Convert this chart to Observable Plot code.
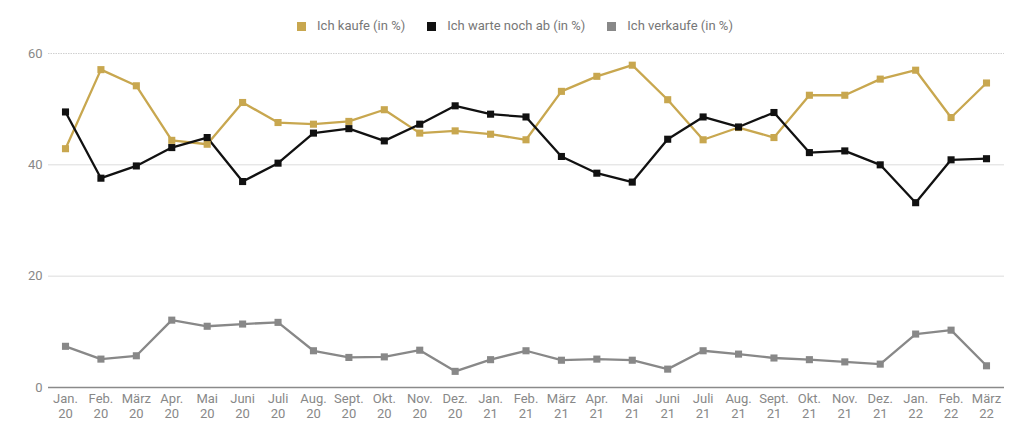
<!DOCTYPE html>
<html><head><meta charset="utf-8">
<script src="https://cdn.jsdelivr.net/npm/d3@7"></script>
<script src="https://cdn.jsdelivr.net/npm/@observablehq/plot@0.6"></script>
<style>
body{margin:0;background:#fff;font-family:Roboto,"Noto Sans",sans-serif;}
#legend{height:40px;display:flex;justify-content:center;align-items:center;gap:22px;font-size:13px;color:#777;padding-top:10px;padding-left:6px;box-sizing:border-box;}
#legend span.sw{display:inline-block;width:9px;height:9px;margin-right:11px;vertical-align:-1px;}
</style></head>
<body>
<div id="legend"></div>
<div id="chart"></div>
<script>
const months = ["Jan.\n20","Feb.\n20","März\n20","Apr.\n20","Mai\n20","Juni\n20","Juli\n20","Aug.\n20","Sept.\n20","Okt.\n20","Nov.\n20","Dez.\n20",
"Jan.\n21","Feb.\n21","März\n21","Apr.\n21","Mai\n21","Juni\n21","Juli\n21","Aug.\n21","Sept.\n21","Okt.\n21","Nov.\n21","Dez.\n21",
"Jan.\n22","Feb.\n22","März\n22"];
const seriesNames = ["Ich kaufe (in %)","Ich warte noch ab (in %)","Ich verkaufe (in %)"];
const seriesColors = ["#c8a74f","#111111","#888888"];
const kaufe = [42.9,57.1,54.2,44.4,43.7,51.2,47.6,47.3,47.8,49.9,45.7,46.1,45.5,44.5,53.2,55.9,57.9,51.7,44.5,46.7,44.9,52.5,52.5,55.4,57.0,48.5,54.7];
const warte = [49.5,37.6,39.8,43.1,44.9,37.0,40.3,45.7,46.5,44.3,47.3,50.6,49.1,48.6,41.5,38.5,36.9,44.6,48.6,46.8,49.4,42.2,42.5,40.0,33.2,40.9,41.1];
const verkaufe = [7.4,5.1,5.7,12.1,11.0,11.4,11.7,6.6,5.4,5.5,6.7,2.9,5.0,6.6,4.9,5.1,4.9,3.3,6.6,6.0,5.3,5.0,4.6,4.2,9.6,10.3,3.9];
const yTicks = [0,20,40,60];

const seriesValues = [kaufe, warte, verkaufe];
const data = [];
seriesValues.forEach((vals, s) => vals.forEach((v, i) => data.push({month: months[i], series: seriesNames[s], value: v})));

const legend = document.getElementById("legend");
seriesNames.forEach((n, i) => {
  const d = document.createElement("div");
  d.innerHTML = `<span class="sw" style="background:${seriesColors[i]}"></span>${n}`;
  legend.appendChild(d);
});

const chart = Plot.plot({
  width: 1024,
  height: 396,
  marginTop: 13,
  marginBottom: 49,
  marginLeft: 65,
  marginRight: 38,
  style: {fontFamily: "Roboto, 'Noto Sans', sans-serif", fontSize: "13px", color: "#888"},
  x: {type: "point", domain: months, padding: 0, round: false, label: null},
  y: {domain: [0, 60], ticks: yTicks, label: null},
  color: {domain: seriesNames, range: seriesColors},
  marks: [
    Plot.ruleY([20, 40], {stroke: "#dcdcdc", strokeWidth: 1, insetLeft: -17, insetRight: -18}),
    Plot.ruleY([60], {stroke: "#d0d0d0", strokeWidth: 1, strokeDasharray: "1.5,1", insetLeft: -17, insetRight: -18}),
    Plot.ruleY([0], {stroke: "#8a8a8a", strokeWidth: 1.5, insetLeft: -17, insetRight: -18}),
    Plot.line(data, {x: "month", y: "value", z: "series", stroke: "series", strokeWidth: 2.3}),
    Plot.dot(data, {x: "month", y: "value", fill: "series", symbol: "square", r: 4, stroke: "none"}),
    Plot.axisX({tickSize: 0, tickPadding: 6, fontSize: 13, fill: "#888", lineHeight: 1.08}),
    Plot.axisY({ticks: yTicks, tickSize: 0, tickPadding: 23, fontSize: 13, fill: "#888"})
  ]
});
document.getElementById("chart").appendChild(chart);
</script>
</body></html>
